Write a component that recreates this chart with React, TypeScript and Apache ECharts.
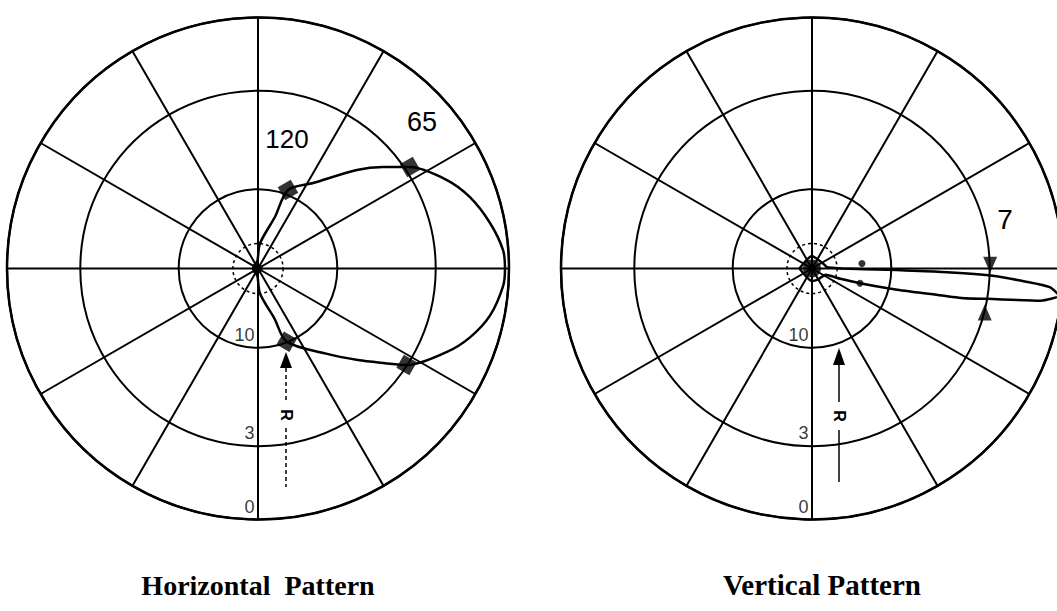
import React, { useEffect, useRef } from "react";
import * as echarts from "echarts";

// Ring radii (linear amplitude) for 20, 10, 3 and 0 dB
const ringRadii = [0.1, 0.316, 0.708, 1.0];
const ringDashed = [1, 0, 0, 0];
const ringLabelRadii = [0.316, 0.708, 1.0];
const ringLabels = ["10", "3", "0"];

// Horizontal pattern (angle in degrees, counter-clockwise from east; radius = amplitude)
const hAngles = [180, 140, 95, 85.5, 71.8, 69.1, 57.2, 44.9, 39.1, 33.7, 25.1, 18.6, 11.1, 4.3, 0, -4.1, -11.5, -18, -23.8, -33, -36.7, -42.5, -51.7, -68.6, -71.8, -85.5, -95, -140, -180];
const hRadii = [0.02, 0.02, 0.03, 0.1, 0.217, 0.335, 0.405, 0.556, 0.641, 0.728, 0.831, 0.891, 0.942, 0.979, 0.984, 0.979, 0.943, 0.888, 0.823, 0.706, 0.631, 0.54, 0.431, 0.313, 0.21, 0.1, 0.03, 0.02, 0.02];
const hMarkerAngles = [69.1, -68.6, 33.7, -33];
const hMarkerRadii = [0.335, 0.313, 0.728, 0.706];

// Vertical pattern
const vAngles = [180, 90, 20, 5, 2, 0, -1, -1.5, -2.3, -3.5, -4.5, -6.3, -8, -9.8, -11, -12, -14, -17, -20, -25, -60, -90, -180];
const vRadii = [0.05, 0.05, 0.05, 0.06, 0.08, 0.12, 0.3, 0.5, 0.72, 0.85, 0.95, 0.99, 0.92, 0.71, 0.62, 0.5, 0.35, 0.2, 0.12, 0.06, 0.05, 0.05, 0.05];
const vMarkerAngles = [1.2, -14.3];
const vMarkerRadii = [0.71, 0.71];
const vSideAngles = [5.7, -17];
const vSideRadii = [0.2, 0.2];

const titles = ["Horizontal  Pattern", "Vertical Pattern"];
const beamLabels = ["120", "65", "7"];
const arrowLabel = "R";

const BLACK = "#000";

function ringSeries(pi: number) {
  return {
    type: "custom",
    coordinateSystem: "polar",
    polarIndex: pi,
    silent: true,
    z: 1,
    data: ringRadii.map((r, k) => [r, 0, ringDashed[k]]),
    renderItem: (params: any, api: any) => {
      const c = api.coord([0, 0]);
      const p = api.coord([api.value(0), 0]);
      const rr = Math.hypot(p[0] - c[0], p[1] - c[1]);
      const dashed = api.value(2) === 1;
      return {
        type: "circle",
        shape: { cx: c[0], cy: c[1], r: rr },
        style: {
          fill: "none",
          stroke: BLACK,
          lineWidth: dashed ? 1.5 : 2,
          lineDash: dashed ? [3, 3] : null,
        },
      };
    },
  };
}

function ringLabelSeries(pi: number) {
  return {
    type: "scatter",
    coordinateSystem: "polar",
    polarIndex: pi,
    silent: true,
    symbolSize: 1,
    itemStyle: { color: "rgba(0,0,0,0)" },
    z: 5,
    data: ringLabelRadii.map((r, k) => ({
      value: [r, -90],
      label: {
        show: true,
        formatter: ringLabels[k],
        position: "left",
        distance: 3,
        offset: [0, -13],
        color: BLACK,
        fontSize: 18,
        fontFamily: "Liberation Sans",
      },
    })),
  };
}

function centerDot(pi: number, size: number) {
  return {
    type: "scatter",
    coordinateSystem: "polar",
    polarIndex: pi,
    silent: true,
    symbol: "circle",
    symbolSize: size,
    itemStyle: { color: BLACK },
    z: 4,
    data: [[0, 0]],
  };
}

export default function App() {
  const ref = useRef<HTMLDivElement>(null);
  useEffect(() => {
    if (!ref.current) return;
    const chart = echarts.init(ref.current, null, { renderer: "svg" });
    const axisCommon = {
      type: "value",
      min: -180,
      max: 180,
      interval: 30,
      startAngle: 180,
      clockwise: false,
      axisLine: { show: true, lineStyle: { color: BLACK, width: 2.5 } },
      axisTick: { show: false },
      axisLabel: { show: false },
      splitLine: { show: true, lineStyle: { color: BLACK, width: 2 } },
    };
    const radCommon = {
      type: "value",
      min: 0,
      max: 1,
      axisLine: { show: false },
      axisTick: { show: false },
      axisLabel: { show: false },
      splitLine: { show: false },
    };
    const textStyle = (txt: string, x: number, y: number, size: number, extra: any = {}) => ({
      type: "text",
      x,
      y,
      z: 10,
      style: {
        text: txt,
        fontSize: size,
        fontFamily: "Liberation Sans",
        fill: BLACK,
        align: "center",
        verticalAlign: "middle",
        ...extra,
      },
    });
    const option: any = {
      animation: false,
      backgroundColor: "#fff",
      polar: [
        { center: [258, 268.5], radius: 251 },
        { center: [812, 268.5], radius: 251 },
      ],
      angleAxis: [
        { ...axisCommon, polarIndex: 0 },
        { ...axisCommon, polarIndex: 1 },
      ],
      radiusAxis: [
        { ...radCommon, polarIndex: 0 },
        { ...radCommon, polarIndex: 1 },
      ],
      series: [
        ringSeries(0),
        ringSeries(1),
        ringLabelSeries(0),
        ringLabelSeries(1),
        centerDot(0, 9),
        centerDot(1, 18),
        {
          type: "line",
          coordinateSystem: "polar",
          polarIndex: 0,
          silent: true,
          smooth: 0.3,
          symbol: "none",
          lineStyle: { color: BLACK, width: 2.5 },
          z: 3,
          data: hAngles.map((a, k) => [hRadii[k], a]),
        },
        {
          type: "scatter",
          coordinateSystem: "polar",
          polarIndex: 0,
          silent: true,
          symbol: "rect",
          symbolSize: 15,
          itemStyle: { color: BLACK },
          z: 6,
          data: hMarkerAngles.map((a, k) => ({
            value: [hMarkerRadii[k], a],
            symbolRotate: a > 0 ? 30 : -30,
          })),
        },
        {
          type: "line",
          coordinateSystem: "polar",
          polarIndex: 1,
          silent: true,
          smooth: 0.2,
          symbol: "none",
          lineStyle: { color: BLACK, width: 2.5 },
          z: 3,
          data: vAngles.map((a, k) => [vRadii[k], a]),
        },
        {
          type: "scatter",
          coordinateSystem: "polar",
          polarIndex: 1,
          silent: true,
          symbol: "triangle",
          symbolSize: [14, 16],
          itemStyle: { color: BLACK },
          z: 6,
          data: vMarkerAngles.map((a, k) => ({
            value: [vMarkerRadii[k], a],
            symbolRotate: a > 0 ? 180 : 0,
          })),
        },
        {
          type: "scatter",
          coordinateSystem: "polar",
          polarIndex: 1,
          silent: true,
          symbol: "circle",
          symbolSize: 7,
          itemStyle: { color: BLACK },
          z: 6,
          data: vSideAngles.map((a, k) => [vSideRadii[k], a]),
        },
      ],
      graphic: [
        textStyle(beamLabels[0], 287, 139, 26),
        textStyle(beamLabels[1], 422, 122, 27),
        textStyle(beamLabels[2], 1005, 219, 28),
        textStyle(titles[0], 258, 585, 28, { fontFamily: "Liberation Serif", fontWeight: "bold" }),
        textStyle(titles[1], 822, 585, 29, { fontFamily: "Liberation Serif", fontWeight: "bold" }),
        // R arrow, left plot
        {
          type: "polygon",
          z: 10,
          shape: { points: [[286, 352], [280, 368], [292, 368]] },
          style: { fill: BLACK },
        },
        {
          type: "polyline",
          z: 10,
          shape: { points: [[286, 368], [286, 402]] },
          style: { stroke: BLACK, lineWidth: 1.5, lineDash: [4, 3], fill: "none" },
        },
        {
          type: "polyline",
          z: 10,
          shape: { points: [[286, 428], [286, 487]] },
          style: { stroke: BLACK, lineWidth: 1.5, lineDash: [4, 3], fill: "none" },
        },
        {
          type: "text",
          x: 286,
          y: 415,
          rotation: -Math.PI / 2,
          z: 10,
          style: { text: arrowLabel, fontSize: 16, fontWeight: "bold", fontFamily: "Liberation Sans", fill: BLACK, align: "center", verticalAlign: "middle" },
        },
        // R arrow, right plot
        {
          type: "polygon",
          z: 10,
          shape: { points: [[839, 348], [833, 365], [845, 365]] },
          style: { fill: BLACK },
        },
        {
          type: "polyline",
          z: 10,
          shape: { points: [[839, 365], [839, 402]] },
          style: { stroke: BLACK, lineWidth: 1.5, fill: "none" },
        },
        {
          type: "polyline",
          z: 10,
          shape: { points: [[839, 430], [839, 482]] },
          style: { stroke: BLACK, lineWidth: 1.5, fill: "none" },
        },
        {
          type: "text",
          x: 839,
          y: 416,
          rotation: -Math.PI / 2,
          z: 10,
          style: { text: arrowLabel, fontSize: 16, fontWeight: "bold", fontFamily: "Liberation Sans", fill: BLACK, align: "center", verticalAlign: "middle" },
        },
      ],
    };
    chart.setOption(option);
    return () => chart.dispose();
  }, []);
  return (
    <div
      ref={ref}
      style={{ position: "absolute", left: 0, top: 0, width: 1057, height: 611, background: "#fff" }}
    />
  );
}
